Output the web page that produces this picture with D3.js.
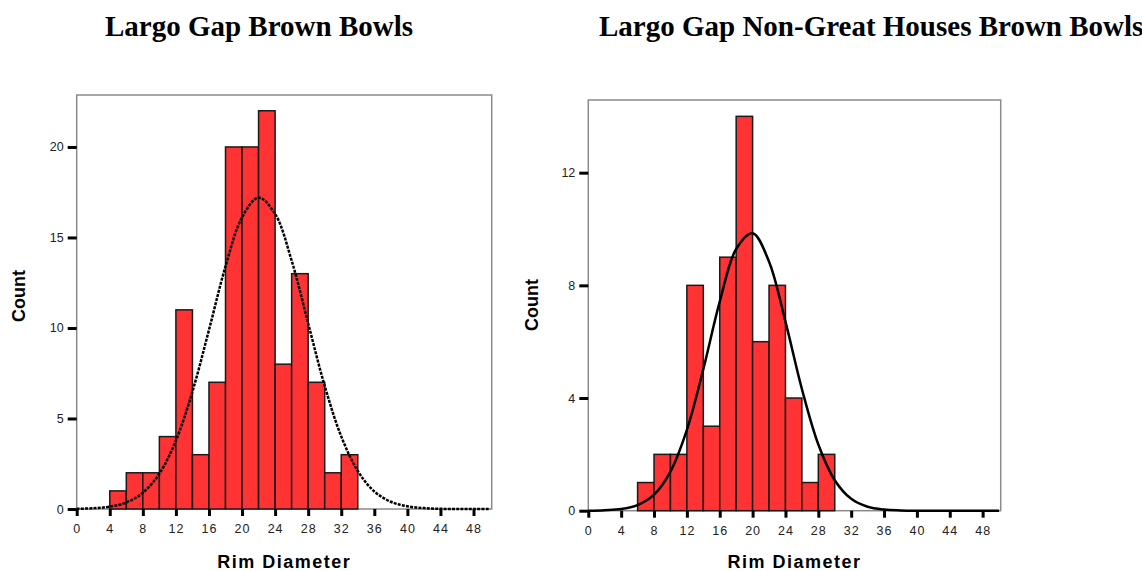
<!DOCTYPE html>
<html>
<head>
    <title>Largo Gap Brown Bowls</title>
    <script src="https://d3js.org/d3.v7.min.js"></script>
    <style>
        body { margin: 0; background-color: white; overflow: hidden; }
        .title { font-family: "Liberation Serif", "Times New Roman", serif; font-weight: bold; font-size: 29px; }
        .axislabel { font-family: "Liberation Sans", Arial, sans-serif; font-weight: bold; font-size: 18px; }
        .tick text { font-family: "Liberation Sans", Arial, sans-serif; font-size: 12.5px; fill: #222; }
        .bar { fill: #ff3333; stroke: #1a1a1a; stroke-width: 1.5px; }
        .frame { fill: none; stroke: #8a8a8a; stroke-width: 1.5px; }
        .curve { fill: none; stroke: #000; stroke-width: 2.5px; }
    </style>
</head>
<body>
<svg id="chart" width="1142" height="571"></svg>
<script>
    // histogram bins (start of each 2-unit bin) and counts
    var leftBins = [4, 6, 8, 10, 12, 14, 16, 18, 20, 22, 24, 26, 28, 30, 32];
    var leftCounts = [1, 2, 2, 4, 11, 3, 7, 20, 20, 22, 8, 13, 7, 2, 3];
    var rightBins = [6, 8, 10, 12, 14, 16, 18, 20, 22, 24, 26, 28];
    var rightCounts = [1, 2, 2, 8, 3, 9, 14, 6, 8, 4, 1, 2];
    var binWidth = 2;

    // normal curve at every 2 units
    var curveX = [0, 2, 4, 6, 8, 10, 12, 14, 16, 18, 20, 22, 24, 26, 28, 30, 32, 34, 36, 38, 40, 42, 44, 46, 48, 50];
    var leftCurve = [0.01, 0.04, 0.13, 0.36, 0.9, 1.95, 3.78, 6.49, 9.89, 13.4, 16.11, 17.2, 16.3, 13.72, 10.25, 6.8, 4.01, 2.1, 0.97, 0.4, 0.15, 0.05, 0.01, 0, 0, 0];
    var rightCurve = [0, 0.02, 0.06, 0.2, 0.57, 1.39, 2.87, 5.02, 7.42, 9.29, 9.85, 8.84, 6.71, 4.32, 2.35, 1.08, 0.42, 0.14, 0.04, 0.01, 0, 0, 0, 0, 0, 0];

    var xTicks = [0, 4, 8, 12, 16, 20, 24, 28, 32, 36, 40, 44, 48];
    var leftYTicks = [0, 5, 10, 15, 20];
    var rightYTicks = [0, 4, 8, 12];

    var svg = d3.select("#chart");

    function drawHist(opts) {
        var g = svg.append("g");

        var x = d3.scaleLinear().domain([0, 50.2]).range([opts.left, opts.right]);
        var y = d3.scaleLinear().domain([0, opts.yMax]).range([opts.bottom, opts.top]);

        g.append("rect")
            .attr("class", "frame")
            .attr("x", opts.left)
            .attr("y", opts.top)
            .attr("width", opts.right - opts.left)
            .attr("height", opts.bottom - opts.top);

        var rows = opts.bins.map(function (b, i) { return {x0: b, n: opts.counts[i]}; });
        g.selectAll(".bar")
            .data(rows)
            .join("rect")
            .attr("class", "bar")
            .attr("x", function (d) { return x(d.x0); })
            .attr("width", function (d) { return x(d.x0 + binWidth) - x(d.x0); })
            .attr("y", function (d) { return y(d.n); })
            .attr("height", function (d) { return y(0) - y(d.n); });

        var pts = curveX.map(function (v, i) { return [v, opts.curve[i]]; });
        var line = d3.line()
            .x(function (d) { return x(d[0]); })
            .y(function (d) { return y(d[1]); })
            .curve(d3.curveCatmullRom.alpha(0.5));
        g.append("path")
            .attr("class", "curve")
            .attr("d", line(pts))
            .style("stroke-dasharray", opts.dashed ? "3,1.2" : null);

        // x axis
        var xa = g.append("g")
            .attr("transform", "translate(0," + opts.bottom + ")")
            .call(d3.axisBottom(x).tickValues(xTicks).tickSize(7).tickPadding(8));
        xa.select(".domain").remove();
        xa.selectAll(".tick line").style("stroke", "#000").style("stroke-width", 3);
        xa.selectAll(".tick text").style("letter-spacing", "1px");

        // y axis
        var ya = g.append("g")
            .attr("transform", "translate(" + opts.left + ",0)")
            .call(d3.axisLeft(y).tickValues(opts.yTicks).tickSize(9).tickPadding(4));
        ya.select(".domain").remove();
        ya.selectAll(".tick line").style("stroke", "#000").style("stroke-width", 3);

        g.append("text")
            .attr("class", "axislabel")
            .attr("x", (opts.left + opts.right) / 2)
            .attr("y", 568)
            .attr("text-anchor", "middle")
            .style("letter-spacing", "1.5px")
            .text("Rim Diameter");

        g.append("text")
            .attr("class", "axislabel")
            .attr("transform", "translate(" + opts.countX + "," + opts.countY + ") rotate(-90)")
            .attr("text-anchor", "middle")
            .text("Count");

        g.append("text")
            .attr("class", "title")
            .attr("x", opts.titleX)
            .attr("y", 36)
            .attr("text-anchor", opts.titleAnchor)
            .text(opts.title);
    }

    drawHist({
        left: 76.7, right: 491.7, top: 95, bottom: 509, yMax: 22.87,
        bins: leftBins, counts: leftCounts, curve: leftCurve, yTicks: leftYTicks,
        dashed: true, countX: 25, countY: 296,
        title: "Largo Gap Brown Bowls", titleX: 259, titleAnchor: "middle"
    });

    drawHist({
        left: 588.3, right: 1000.7, top: 100, bottom: 510.7, yMax: 14.58,
        bins: rightBins, counts: rightCounts, curve: rightCurve, yTicks: rightYTicks,
        dashed: false, countX: 538, countY: 305,
        title: "Largo Gap Non-Great Houses Brown Bowls", titleX: 599, titleAnchor: "start"
    });
</script>
</body>
</html>
